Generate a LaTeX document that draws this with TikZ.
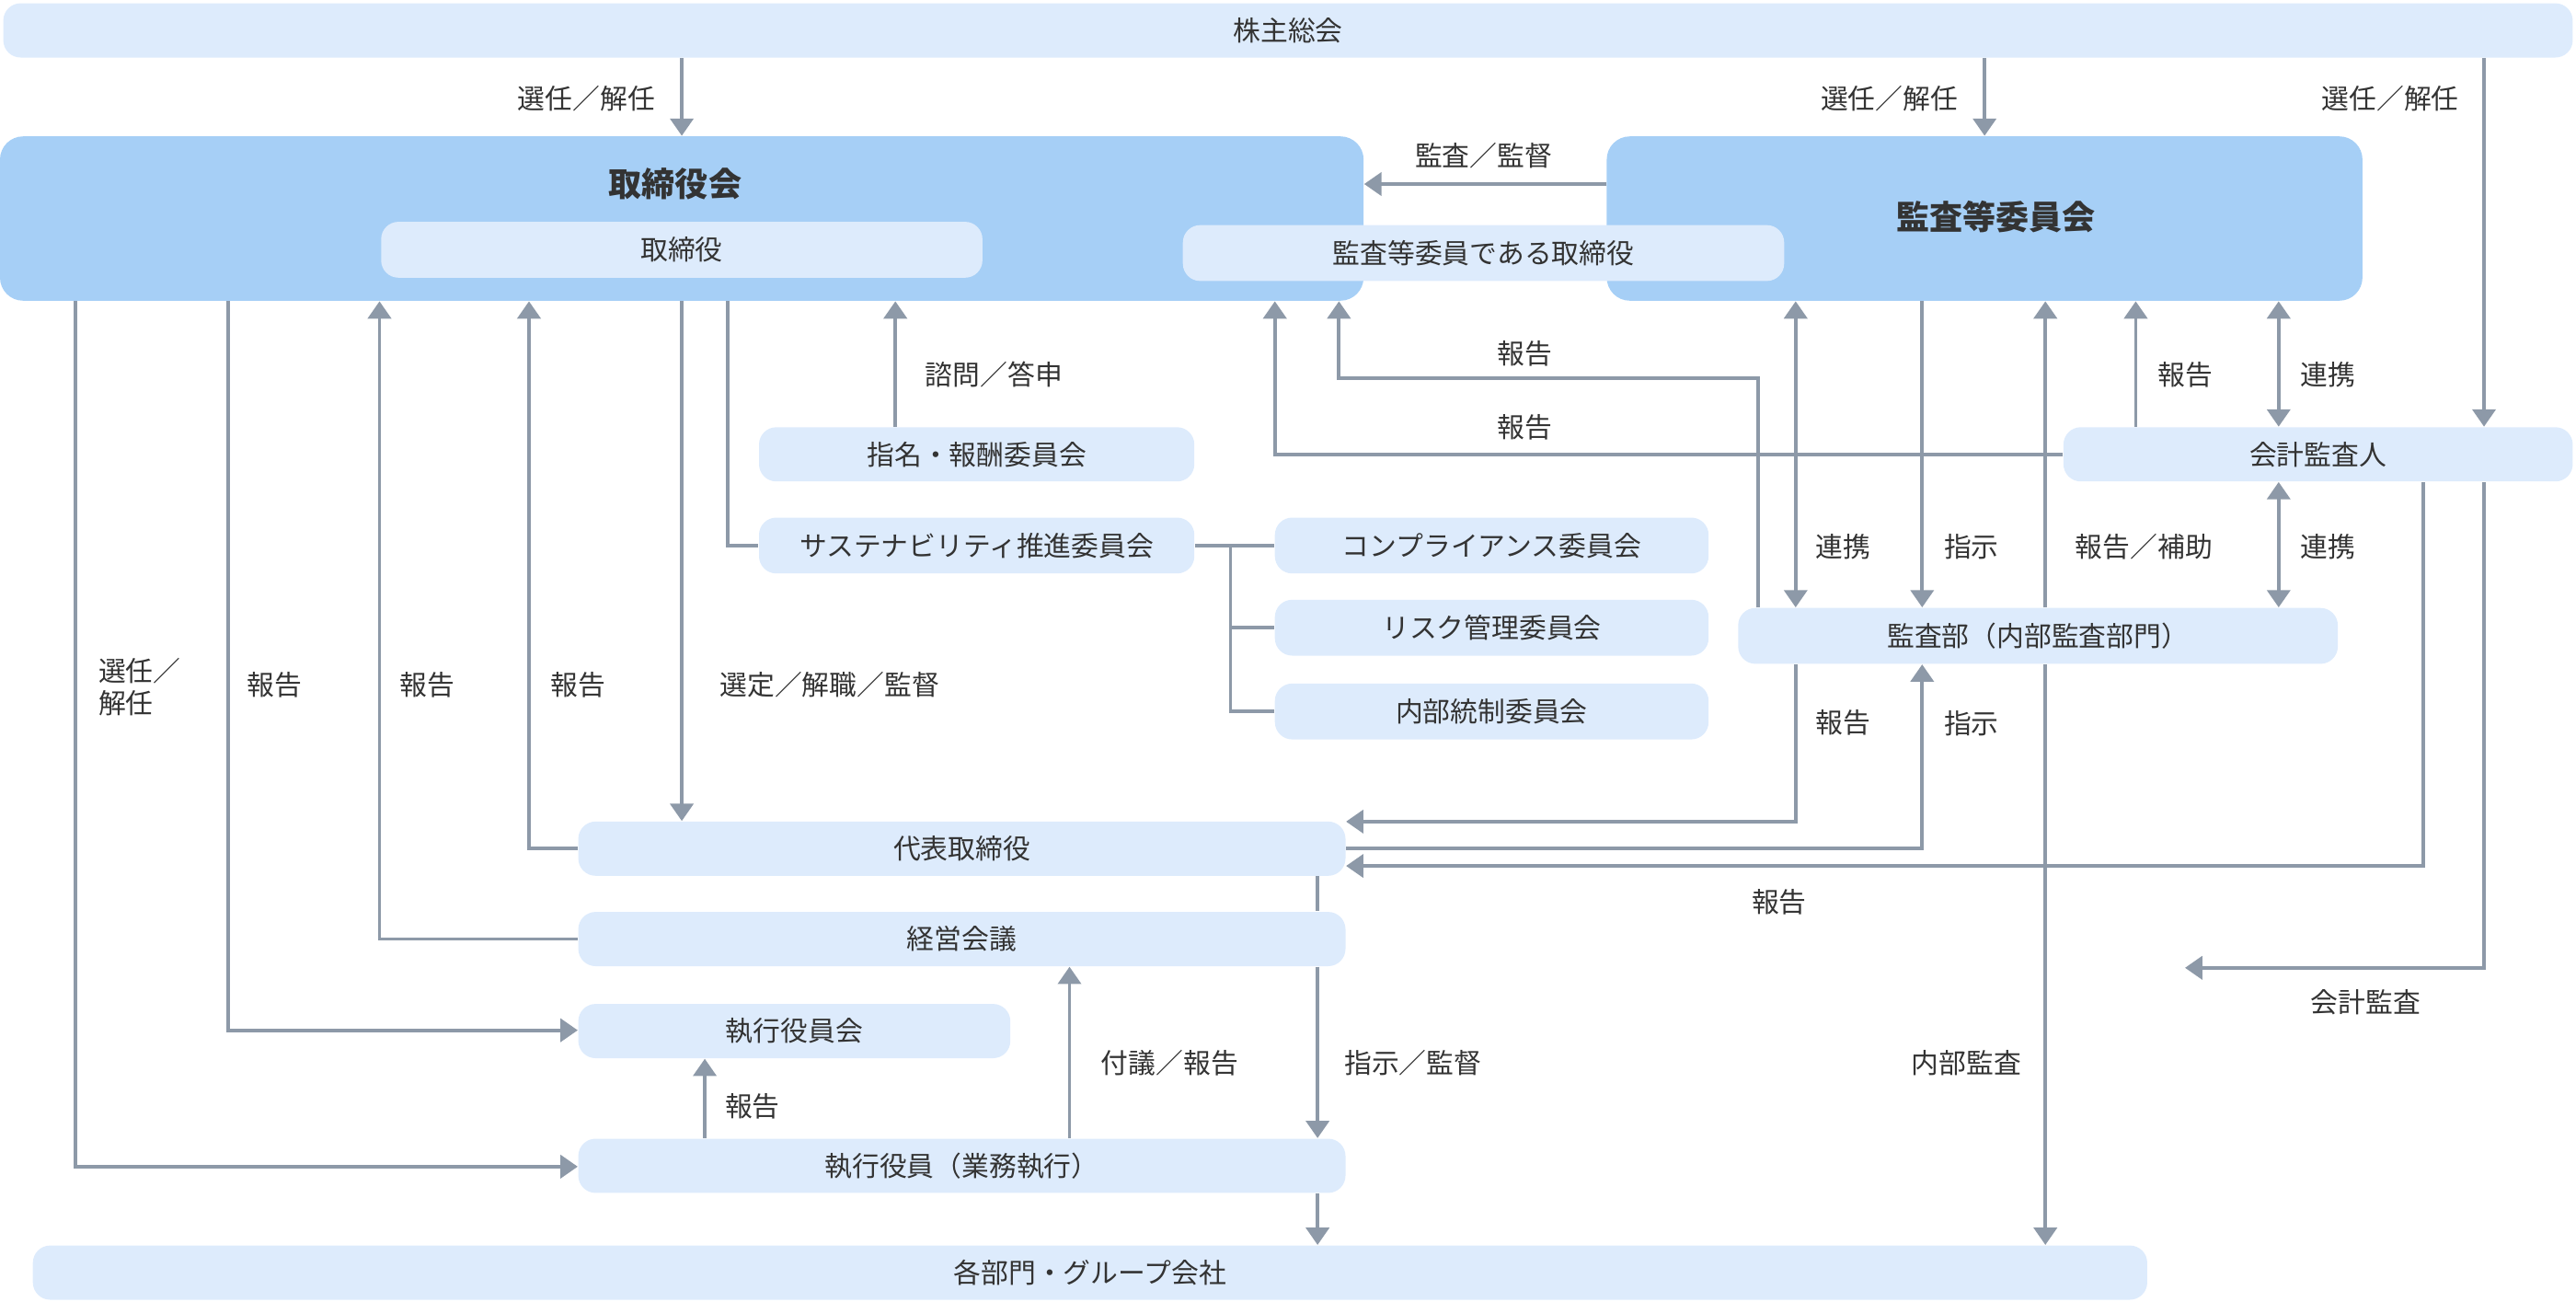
\documentclass[tikz,border=0pt]{standalone}
\usepackage{fontspec}
\setmainfont{Noto Sans CJK JP}
\usetikzlibrary{arrows.meta,calc,positioning}
\definecolor{boxlight}{HTML}{DDEBFC}
\definecolor{boxdark}{HTML}{A6CFF6}
\definecolor{lineg}{HTML}{8D99A8}
\definecolor{txt}{HTML}{333333}
\tikzset{
  box/.style={fill=boxlight, rounded corners=6pt, inner sep=0pt, text=txt, font=\fontsize{9.5}{11}\selectfont},
  bigbox/.style={fill=boxdark, rounded corners=8pt, inner sep=0pt},
  conn/.style={draw=lineg, line width=1.2pt, -{Triangle[length=6pt,width=8pt]}},
  plain/.style={draw=lineg, line width=1.2pt},
  both/.style={conn, {Triangle[length=6pt,width=8pt]}-{Triangle[length=6pt,width=8pt]}},
  lbl/.style={text=txt, font=\fontsize{9.5}{11}\selectfont, align=left}
}
% box from pixel corners
\newcommand{\bx}[7][box]{\node[#1, minimum width={(#5-#3)*0.02cm}, minimum height={(#6-#4)*0.02cm}] (#2) at ({(#3+#5)/2},{(#4+#6)/2}) {#7};}
\begin{document}
\begin{tikzpicture}[x=0.02cm, y=-0.02cm]
  \useasboundingbox (0,0) rectangle (1568,792);
  % columns
  \foreach \c in {46,139,231,322,415,429,443,545,651,749,802,815,776,1070,1093,1170,1208,1245,1300,1387,1475,1512}
    \coordinate (c\c) at (\c,0);
  % boxes
  \bx{gm}{2}{2}{1566}{35}{株主総会}
  \bx[bigbox]{bod}{0}{83}{830}{183}{}
  \bx[bigbox]{ac}{978}{83}{1438}{183}{}
  \node[text=txt, font=\fontsize{11.5}{13}\bfseries] at (411,112) {取締役会};
  \node[text=txt, font=\fontsize{11.5}{13}\bfseries] at (1215,132) {監査等委員会};
  \bx{dir}{232}{135}{598}{169}{取締役}
  \bx{acdir}{720}{137}{1086}{171}{監査等委員である取締役}
  \bx{nom}{462}{260}{727}{293}{指名・報酬委員会}
  \bx{sus}{462}{315}{727}{349}{サステナビリティ推進委員会}
  \bx{comp}{776}{315}{1040}{349}{コンプライアンス委員会}
  \bx{risk}{776}{365}{1040}{399}{リスク管理委員会}
  \bx{ic}{776}{416}{1040}{450}{内部統制委員会}
  \bx{aud}{1256}{260}{1566}{293}{会計監査人}
  \bx{ia}{1058}{370}{1423}{404}{監査部（内部監査部門）}
  \bx{ceo}{352}{500}{819}{533}{代表取締役}
  \bx{mgmt}{352}{555}{819}{588}{経営会議}
  \bx{eoc}{352}{611}{615}{644}{執行役員会}
  \bx{eo}{352}{693}{819}{726}{執行役員（業務執行）}
  \bx{grp}{20}{758}{1307}{791}{各部門・グループ会社}
  % top
  \draw[conn] (c415 |- gm.south) -- (c415 |- bod.north);
  \node[lbl] at (357,60) {選任／解任};
  \draw[conn] (c1208 |- gm.south) -- (c1208 |- ac.north);
  \node[lbl] at (1150,60) {選任／解任};
  \draw[conn] (c1512 |- gm.south) -- (c1512 |- aud.north);
  \node[lbl] at (1455,60) {選任／解任};
  \draw[conn] (978,112) coordinate (acw) -- (bod.east |- acw);
  \node[lbl] at (903,95) {監査／監督};
  % committees
  \draw[conn] (c545 |- nom.north) -- (c545 |- bod.south);
  \node[lbl] at (605,228) {諮問／答申};
  \draw[plain] (c443 |- bod.south) |- (sus.west);
  \draw[plain] (sus.east) -- (comp.west);
  \draw[plain] (c749 |- sus.east) |- (risk.west);
  \draw[plain] (c749 |- risk.west) |- (ic.west);
  % audit dept / auditor to board
  \draw[conn] (c1070 |- ia.north) |- (900,230) -| (c815 |- bod.south);
  \node[lbl] at (928,215) {報告};
  \draw[conn] (aud.west) -| (c776 |- bod.south);
  \node[lbl] at (928,260) {報告};
  \draw[both] (c1093 |- ac.south) -- (c1093 |- ia.north);
  \node[lbl] at (1122,333) {連携};
  \draw[conn] (c1170 |- ac.south) -- (c1170 |- ia.north);
  \node[lbl] at (1200,333) {指示};
  \draw[conn] (c1245 |- ia.north) -- (c1245 |- ac.south);
  \node[lbl] at (1305,333) {報告／補助};
  \draw[conn] (c1245 |- ia.south) -- (c1245 |- grp.north);
  \node[lbl] at (1197,647) {内部監査};
  \draw[conn] (c1300 |- aud.north) -- (c1300 |- ac.south);
  \node[lbl] at (1330,228) {報告};
  \draw[both] (c1387 |- ac.south) -- (c1387 |- aud.north);
  \node[lbl] at (1417,228) {連携};
  \draw[both] (c1387 |- aud.south) -- (c1387 |- ia.north);
  \node[lbl] at (1417,333) {連携};
  % audit to ceo
  \draw[conn] (c1093 |- ia.south) |- (ceo.east |- 0,500);
  \node[lbl] at (1122,440) {報告};
  \draw[conn] (ceo.east) -| (c1170 |- ia.south);
  \node[lbl] at (1200,440) {指示};
  \draw[conn] (c1475 |- aud.south) |- (ceo.east |- 0,527);
  \node[lbl] at (1083,549) {報告};
  \draw[conn] (c1512 |- aud.south) |- (1330,589);
  \node[lbl] at (1440,610) {会計監査};
  % left side
  \draw[conn] (c46 |- bod.south) |- (eo.west |- 0,710);
  \node[lbl] at (85,418) {選任／\\解任};
  \draw[conn] (c139 |- bod.south) |- (eoc.west |- 0,627);
  \node[lbl] at (167,417) {報告};
  \draw[conn] (mgmt.west) -| (c231 |- bod.south);
  \node[lbl] at (260,417) {報告};
  \draw[conn] (ceo.west) -| (c322 |- bod.south);
  \node[lbl] at (352,417) {報告};
  \draw[conn] (c415 |- bod.south) -- (c415 |- ceo.north);
  \node[lbl] at (505,417) {選定／解職／監督};
  % execution
  \draw[conn] (c429 |- eo.north) -- (c429 |- eoc.south);
  \node[lbl] at (458,673) {報告};
  \draw[conn] (c651 |- eo.north) -- (c651 |- mgmt.south);
  \node[lbl] at (712,647) {付議／報告};
  \draw[plain] (c802 |- ceo.south) -- (c802 |- mgmt.north);
  \draw[conn] (c802 |- mgmt.south) -- (c802 |- eo.north);
  \node[lbl] at (860,647) {指示／監督};
  \draw[conn] (c802 |- eo.south) -- (c802 |- grp.north);
\end{tikzpicture}
\end{document}
